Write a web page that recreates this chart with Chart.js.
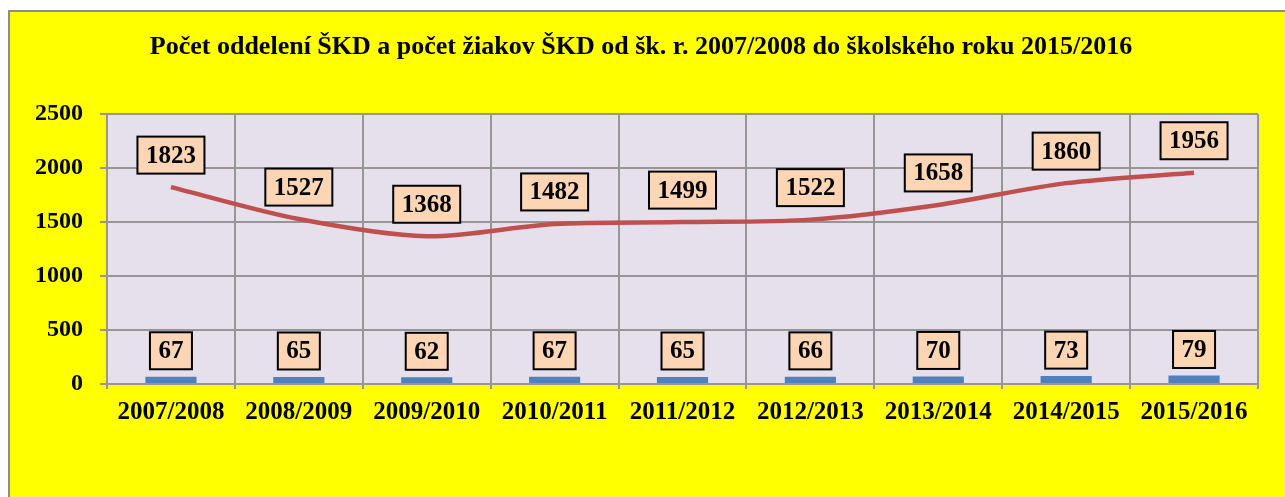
<!DOCTYPE html>
<html>
<head>
<meta charset="utf-8">
<script src="https://cdn.jsdelivr.net/npm/chart.js@4"></script>
<style>
  html, body { margin: 0; padding: 0; background: #ffffff; }
  #wrap { position: absolute; left: 0; top: 0; width: 1285px; height: 497px; }
</style>
</head>
<body>
<div id="wrap"><canvas id="graf"></canvas></div>
<script>
// data
const roky = ["2007/2008", "2008/2009", "2009/2010", "2010/2011", "2011/2012", "2012/2013", "2013/2014", "2014/2015", "2015/2016"];
const oddelenia = [67, 65, 62, 67, 65, 66, 70, 73, 79];
const ziaci = [1823, 1527, 1368, 1482, 1499, 1522, 1658, 1860, 1956];
const osY = [0, 500, 1000, 1500, 2000, 2500];
const nadpis = "Počet oddelení ŠKD a počet žiakov ŠKD od šk. r. 2007/2008 do školského roku 2015/2016";

const pismo = "'Liberation Serif', 'Times New Roman', serif";

// yellow frame + plot background + title
const pozadie = {
    id: 'pozadie',
    beforeDraw(chart) {
        const c = chart.ctx;
        const a = chart.chartArea;
        c.save();
        c.fillStyle = '#ffffff';
        c.fillRect(0, 0, chart.width, chart.height);
        c.fillStyle = '#ffff00';
        c.fillRect(9, 11, chart.width, chart.height);
        c.strokeStyle = '#8c8c8c';
        c.lineWidth = 2;
        c.strokeRect(9, 11, chart.width + 10, chart.height + 10);
        c.fillStyle = '#e5e0ec';
        c.fillRect(a.left, a.top, a.right - a.left, a.bottom - a.top);
        c.fillStyle = '#000000';
        c.font = "bold 26px " + pismo;
        c.textAlign = 'center';
        c.textBaseline = 'middle';
        c.fillText(nadpis, 641, 47);
        c.restore();
    }
};

// boxed value labels
const stitky = {
    id: 'stitky',
    afterDatasetsDraw(chart) {
        const c = chart.ctx;
        c.save();
        c.font = "bold 25px " + pismo;
        c.textAlign = 'center';
        c.textBaseline = 'middle';
        chart.data.datasets.forEach(function (ds, i) {
            const meta = chart.getDatasetMeta(i);
            const posun = ds.type === 'line' ? 32 : 26;
            meta.data.forEach(function (el, j) {
                const text = String(ds.data[j]);
                const w = c.measureText(text).width + 17;
                const h = 37;
                const x = el.x;
                const y = el.y - posun;
                c.fillStyle = '#fcd5b5';
                c.fillRect(x - w / 2, y - h / 2, w, h);
                c.strokeStyle = '#000000';
                c.lineWidth = 2;
                c.strokeRect(x - w / 2, y - h / 2, w, h);
                c.fillStyle = '#000000';
                c.fillText(text, x, y + 1);
            });
        });
        c.restore();
    }
};

new Chart(document.getElementById('graf'), {
    type: 'bar',
    data: {
        labels: roky,
        datasets: [
            {
                type: 'line',
                label: 'Počet žiakov ŠKD',
                data: ziaci,
                borderColor: '#c0504d',
                borderWidth: 4.5,
                pointRadius: 0,
                tension: 0.3,
                order: 0
            },
            {
                type: 'bar',
                label: 'Počet oddelení ŠKD',
                data: oddelenia,
                backgroundColor: '#4f81bd',
                categoryPercentage: 0.8,
                barPercentage: 0.5,
                order: 1
            }
        ]
    },
    options: {
        responsive: true,
        maintainAspectRatio: false,
        animation: false,
        layout: { padding: { left: 35, top: 114, right: 27, bottom: 0 } },
        plugins: {
            legend: { display: false },
            title: { display: false },
            tooltip: { enabled: false }
        },
        scales: {
            x: {
                offset: true,
                grid: { offset: true, color: '#969696', lineWidth: 2, tickLength: 5 },
                border: { color: '#969696', width: 2 },
                ticks: { color: '#000', padding: 9, font: { family: pismo, size: 25, weight: 'bold' }, maxRotation: 0 },
                afterFit(scale) { scale.height = 113; }
            },
            y: {
                min: 0,
                max: 2500,
                afterBuildTicks(scale) { scale.ticks = osY.map(v => ({ value: v })); },
                grid: { color: '#969696', lineWidth: 2, tickLength: 7 },
                border: { color: '#969696', width: 2 },
                ticks: {
                    color: '#000', padding: 17,
                    font: { family: pismo, size: 24, weight: 'bold' },
                    callback: function (v) { return String(v); }
                },
                afterFit(scale) { scale.width = 72; }
            }
        }
    },
    plugins: [pozadie, stitky]
});
</script>
</body>
</html>
